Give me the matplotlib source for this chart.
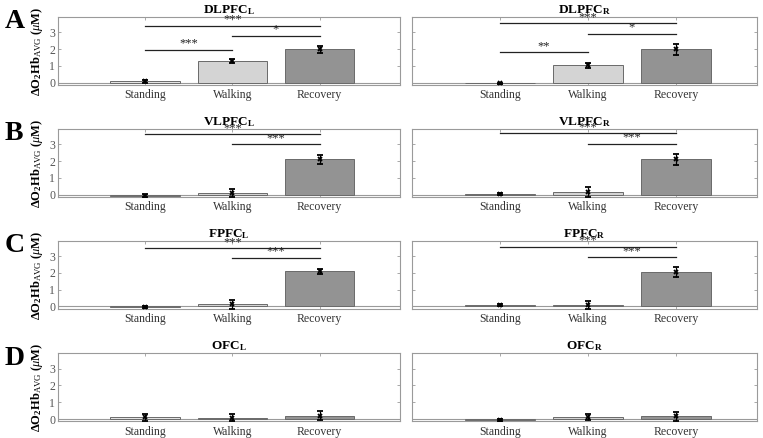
import numpy as np
import matplotlib
matplotlib.use('Agg')
import matplotlib.pyplot as plt

# 폰트 설정 (Times 계열)
plt.rcParams['font.family'] = ['Liberation Serif', 'DejaVu Serif']
plt.rcParams['mathtext.fontset'] = 'custom'
plt.rcParams['mathtext.rm'] = 'Liberation Serif'
plt.rcParams['mathtext.it'] = 'Liberation Serif:italic'
plt.rcParams['mathtext.bf'] = 'Liberation Serif:bold'

# 데이터
regions = ['DLPFC', 'VLPFC', 'FPFC', 'OFC']
panel_letters = ['A', 'B', 'C', 'D']
conditions = ['Standing', 'Walking', 'Recovery']

mean_L = [[0.07, 1.27, 1.98],
          [-0.05, 0.12, 2.10],
          [-0.05, 0.12, 2.08],
          [0.10, 0.08, 0.20]]
err_L = [[0.08, 0.11, 0.22],
         [0.07, 0.25, 0.27],
         [0.07, 0.26, 0.16],
         [0.22, 0.20, 0.28]]
mean_R = [[-0.05, 1.03, 1.98],
          [0.05, 0.14, 2.10],
          [0.08, 0.08, 2.05],
          [-0.05, 0.12, 0.15]]
err_R = [[0.05, 0.15, 0.32],
         [0.06, 0.30, 0.33],
         [0.06, 0.26, 0.28],
         [0.07, 0.15, 0.24]]

# 유의성 표시: (시작 조건, 끝 조건, 높이, 별표)
sig_L = [[(1, 3, 3.37, '***'), (2, 3, 2.80, '*'), (1, 2, 1.96, '***')],
         [(1, 3, 3.60, '***'), (2, 3, 3.00, '***')],
         [(1, 3, 3.45, '***'), (2, 3, 2.88, '***')],
         []]
sig_R = [[(1, 3, 3.53, '***'), (2, 3, 2.92, '*'), (1, 2, 1.81, '**')],
         [(1, 3, 3.65, '***'), (2, 3, 3.03, '***')],
         [(1, 3, 3.55, '***'), (2, 3, 2.93, '***')],
         []]

bar_colors = ['#e3e3e3', '#d4d4d4', '#939393']
spine_color = '#9a9a9a'

fig = plt.figure(figsize=(7.63, 4.38), dpi=100)

row_bottoms = [0.806, 0.550, 0.295, 0.038]
row_h = 0.155
col_x = [(0.076, 0.448), (0.540, 0.452)]

x = np.arange(1, 4)

for r in range(4):
    for c, (means, errs, sigs, side) in enumerate([(mean_L, err_L, sig_L, 'L'),
                                                   (mean_R, err_R, sig_R, 'R')]):
        ax = fig.add_axes([col_x[c][0], row_bottoms[r], col_x[c][1], row_h])
        ax.bar(x, means[r], width=0.8, color=bar_colors,
               edgecolor='#6a6a6a', linewidth=0.7, zorder=2)
        ax.axhline(0, color=spine_color, linewidth=0.8, zorder=1)
        ax.errorbar(x, means[r], yerr=errs[r], fmt='x', color='black',
                    ecolor='black', elinewidth=0.9, capsize=2.5, capthick=0.9,
                    markersize=3.5, mew=1.3, zorder=3)

        for (a, b, h, s) in sigs[r]:
            ax.plot([a, b], [h, h], color='#222222', linewidth=0.9, zorder=3)
            ax.text((a + b) / 2, h + 0.02, s, ha='center', va='bottom',
                    fontsize=9, color='#222222', zorder=3)

        ax.set_xlim(0, 3.92)
        ax.set_ylim(-0.14, 3.9)
        ax.set_xticks(x)
        ax.set_xticklabels(conditions, fontsize=8.5, color='#333333')
        ax.set_yticks([0, 1, 2, 3])
        ax.tick_params(direction='in', length=2.5, width=0.6, color=spine_color,
                       top=True, right=True, pad=3)
        ax.tick_params(axis='y', labelsize=8.5, labelcolor='#555555', pad=2)
        for sp in ax.spines.values():
            sp.set_color(spine_color)
            sp.set_linewidth(0.8)

        ax.set_title(r'%s$_{\mathbf{%s}}$' % (regions[r], side),
                     fontsize=9.5, fontweight='bold', pad=3)

        if c == 0:
            ax.set_ylabel(r'$\mathbf{\Delta O_2 Hb}_{\mathrm{AVG}}$ $\mathbf{(}\mathit{\mu}\mathbf{M)}$',
                          fontsize=9, labelpad=3)
            fig.text(0.006, row_bottoms[r] + row_h + 0.018, panel_letters[r],
                     fontsize=20, fontweight='bold', va='top', ha='left')
        else:
            ax.set_yticklabels([])

plt.savefig('out.png', dpi=100)
plt.close()
